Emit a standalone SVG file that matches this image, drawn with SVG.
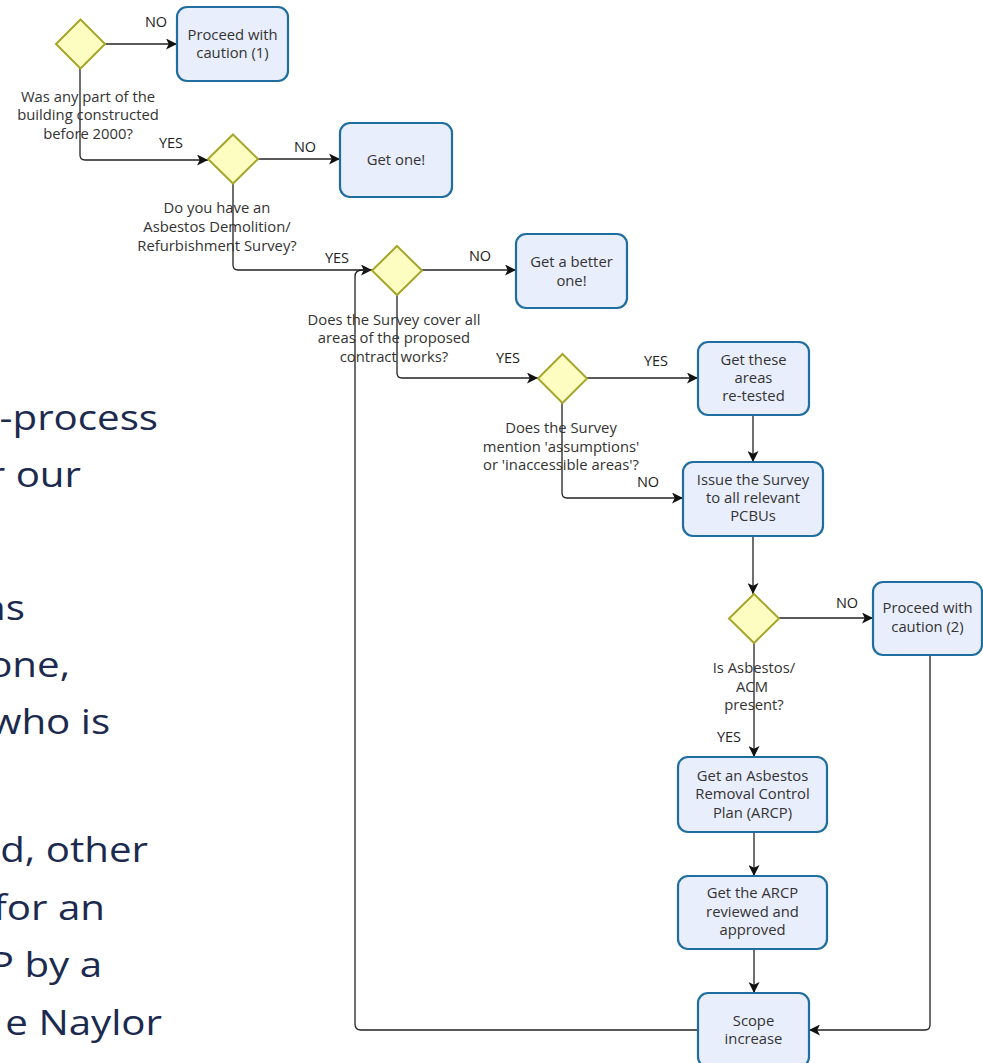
<svg xmlns="http://www.w3.org/2000/svg" width="983" height="1063" viewBox="0 0 983 1063">
<style>
.box{fill:#e9eefc;stroke:#1f6e9f;stroke-width:2.2}
.dia{fill:#fdfdc2;stroke:#a6a62c;stroke-width:2}
.t{font-family:"Open Sans","Noto Sans",sans-serif;font-size:14.8px;fill:#333;text-anchor:middle}
.lbl{font-family:"Open Sans","Noto Sans",sans-serif;font-size:14.5px;fill:#222;text-anchor:middle}
.c{fill:none;stroke:#222;stroke-width:1.3}
.side{font-family:"Open Sans","Noto Sans",sans-serif;font-size:35px;fill:#1b2a4e;text-anchor:end}
</style>
<defs>
<marker id="arr" viewBox="0 0 10 10" refX="10" refY="5" markerWidth="11" markerHeight="11" orient="auto" markerUnits="userSpaceOnUse"><path d="M0,0 L10,5 L0,10 L2.5,5 z" fill="#111"/></marker>
</defs>
<rect width="983" height="1063" fill="#fff"/>
<g id="sidetext" transform="scale(1.15,1)">
<text class="side" x="137.4" y="430">-process</text>
<text class="side" x="70.4" y="487">r our</text>
<text class="side" x="21.7" y="620">ns</text>
<text class="side" x="60.9" y="677">one,</text>
<text class="side" x="95.7" y="734">who is</text>
<text class="side" x="128.7" y="862">d, other</text>
<text class="side" x="91.3" y="920">for an</text>
<text class="side" x="88.7" y="977">P by a</text>
<text class="side" x="140.9" y="1035">e Naylor</text>
</g>
<g id="connectors">
<path class="c" d="M105,44 H177" marker-end="url(#arr)"/>
<path class="c" d="M80,68 V155 Q80,160 85,160 H208" marker-end="url(#arr)"/>
<path class="c" d="M258,159 H340" marker-end="url(#arr)"/>
<path class="c" d="M233,183 V265 Q233,270 238,270 H372" marker-end="url(#arr)"/>
<path class="c" d="M422,270 H516" marker-end="url(#arr)"/>
<path class="c" d="M397,295 V373 Q397,378 402,378 H538" marker-end="url(#arr)"/>
<path class="c" d="M587,378 H698" marker-end="url(#arr)"/>
<path class="c" d="M562,403 V493 Q562,498 567,498 H683" marker-end="url(#arr)"/>
<path class="c" d="M753,415 V462" marker-end="url(#arr)"/>
<path class="c" d="M753,536 V594" marker-end="url(#arr)"/>
<path class="c" d="M779,618 H873" marker-end="url(#arr)"/>
<path class="c" d="M754,643 V757" marker-end="url(#arr)"/>
<path class="c" d="M754,832 V876" marker-end="url(#arr)"/>
<path class="c" d="M754,949 V993" marker-end="url(#arr)"/>
<path class="c" d="M930,655 V1025 Q930,1030 925,1030 H809" marker-end="url(#arr)"/>
<path class="c" d="M698,1030 H361 Q355,1030 355,1024 V277 Q355,270 362,270 H372"/>
<text class="lbl" x="156" y="27">NO</text>
<text class="lbl" x="171" y="148">YES</text>
<text class="lbl" x="305" y="152">NO</text>
<text class="lbl" x="337" y="263">YES</text>
<text class="lbl" x="480" y="261">NO</text>
<text class="lbl" x="508" y="363">YES</text>
<text class="lbl" x="656" y="366">YES</text>
<text class="lbl" x="648" y="487">NO</text>
<text class="lbl" x="847" y="608">NO</text>
<text class="lbl" x="729" y="742">YES</text>
</g>
<g id="d1">
<path class="dia" d="M80.5,19.5 L105,44 L80.5,68.5 L56,44 Z"/>
<text class="t" x="88" y="102">Was any part of the</text>
<text class="t" x="88" y="120">building constructed</text>
<text class="t" x="88" y="139">before 2000?</text>
</g>
<g id="n1">
<rect class="box" x="177" y="7" width="111" height="74" rx="10"/>
<text class="t" x="232.5" y="40">Proceed with</text>
<text class="t" x="232.5" y="58">caution (1)</text>
</g>
<g id="d2">
<path class="dia" d="M233,134.5 L258,159 L233,183.5 L208,159 Z"/>
<text class="t" x="217" y="213">Do you have an</text>
<text class="t" x="217" y="232">Asbestos Demolition/</text>
<text class="t" x="217" y="251">Refurbishment Survey?</text>
</g>
<g id="n2">
<rect class="box" x="340" y="123" width="112" height="74" rx="10"/>
<text class="t" x="396" y="165">Get one!</text>
</g>
<g id="d3">
<path class="dia" d="M397,246 L422,270.5 L397,295 L372,270.5 Z"/>
<text class="t" x="394" y="325">Does the Survey cover all</text>
<text class="t" x="394" y="343">areas of the proposed</text>
<text class="t" x="394" y="362">contract works?</text>
</g>
<g id="n3">
<rect class="box" x="516" y="234" width="111" height="74" rx="10"/>
<text class="t" x="571.5" y="267">Get a better</text>
<text class="t" x="571.5" y="286">one!</text>
</g>
<g id="d4">
<path class="dia" d="M562.5,354 L587,378.5 L562.5,403 L538,378.5 Z"/>
<text class="t" x="561" y="433">Does the Survey</text>
<text class="t" x="561" y="452">mention 'assumptions'</text>
<text class="t" x="561" y="470">or 'inaccessible areas'?</text>
</g>
<g id="n4">
<rect class="box" x="698" y="342" width="111" height="73" rx="10"/>
<text class="t" x="753.5" y="365">Get these</text>
<text class="t" x="753.5" y="383">areas</text>
<text class="t" x="753.5" y="401">re-tested</text>
</g>
<g id="n5">
<rect class="box" x="683" y="462" width="140" height="74" rx="10"/>
<text class="t" x="753" y="485">Issue the Survey</text>
<text class="t" x="753" y="503">to all relevant</text>
<text class="t" x="753" y="521">PCBUs</text>
</g>
<g id="d5">
<path class="dia" d="M754,594 L779,618.5 L754,643 L729,618.5 Z"/>
<text class="t" x="754" y="673">Is Asbestos/</text>
<text class="t" x="752" y="692">ACM</text>
<text class="t" x="754" y="710">present?</text>
</g>
<g id="n6">
<rect class="box" x="873" y="582" width="109" height="73" rx="10"/>
<text class="t" x="927.5" y="613">Proceed with</text>
<text class="t" x="927.5" y="632">caution (2)</text>
</g>
<g id="n7">
<rect class="box" x="678" y="757" width="149" height="75" rx="10"/>
<text class="t" x="752.5" y="781">Get an Asbestos</text>
<text class="t" x="752.5" y="799">Removal Control</text>
<text class="t" x="752.5" y="818">Plan (ARCP)</text>
</g>
<g id="n8">
<rect class="box" x="678" y="876" width="149" height="73" rx="10"/>
<text class="t" x="752.5" y="898">Get the ARCP</text>
<text class="t" x="752.5" y="917">reviewed and</text>
<text class="t" x="752.5" y="935">approved</text>
</g>
<g id="n9">
<rect class="box" x="698" y="993" width="111" height="74" rx="10"/>
<text class="t" x="753.5" y="1026">Scope</text>
<text class="t" x="753.5" y="1044">increase</text>
</g>
</svg>
